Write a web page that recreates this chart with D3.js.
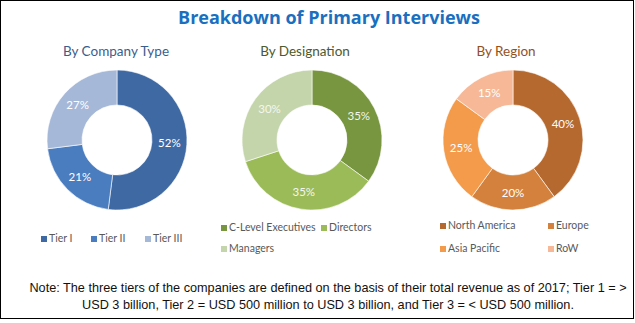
<!DOCTYPE html>
<html><head><meta charset="utf-8">
<script src="https://cdn.jsdelivr.net/npm/d3@7"></script>
<style>body{margin:0;background:#fff}</style></head>
<body><svg id="chart" width="635" height="323"></svg>
<script>
// ---- data ----
const companyTypes  = ["Tier I", "Tier II", "Tier III"];
const companyShares = [52, 21, 27];

const designations      = ["C-Level Executives", "Directors", "Managers"];
const designationShares = [35, 35, 30];

const regions      = ["North America", "Europe", "Asia Pacific", "RoW"];
const regionShares = [40, 20, 25, 15];

const titleText = "Breakdown of Primary Interviews";
const noteLines = [
  "Note: The three tiers of the companies are defined on the basis of their total revenue as of 2017; Tier 1 = >",
  "USD 3 billion, Tier 2 = USD 500 million to USD 3 billion, and Tier 3 = < USD 500 million."
];

// ---- layout / style ----
const svg = d3.select("#chart");
const uiFont = "Lato, 'Open Sans', sans-serif";

svg.append("rect").attr("x", 0.5).attr("y", 0.5).attr("width", 633).attr("height", 318)
  .attr("fill", "#fff").attr("stroke", "#000").attr("stroke-width", 1);

// main heading, stretched to its fixed span
const title = svg.append("text").attr("x", 329).attr("y", 24).attr("text-anchor", "middle")
  .attr("font-family", "'Open Sans', sans-serif").attr("font-weight", "bold").attr("font-size", 18)
  .attr("fill", "#1a6fbf").text(titleText);
{
  const w = title.node().getComputedTextLength();
  title.attr("font-size", 18 * 302 / w);
}

const panels = [
  {
    title: "By Company Type", titleX: 116, titleColor: "#3b5d8c",
    cx: 117, labels: companyTypes, values: companyShares,
    colors: ["#3f69a3", "#4a7cc0", "#a6b8d8"], labelColor: "#fff",
    legend: [[41, 242], [91, 242], [145, 242]]
  },
  {
    title: "By Designation", titleX: 305, titleColor: "#4c5a2c",
    cx: 312, labels: designations, values: designationShares,
    colors: ["#78953f", "#9bbb59", "#c4d5ab"], labelColor: "#f4f7ee",
    legend: [[221, 231], [321, 231], [221, 252]]
  },
  {
    title: "By Region", titleX: 506, titleColor: "#94501c",
    cx: 513, labels: regions, values: regionShares,
    colors: ["#b5692f", "#d3813d", "#f39a4b", "#f6b896"], labelColor: "#fff",
    legend: [[440, 229], [548, 229], [440, 252], [548, 252]]
  }
];

const cy = 140, rOuter = 70, rInner = 35;
const pie = d3.pie().sort(null).value(d => d);
const arc = d3.arc().innerRadius(rInner).outerRadius(rOuter);
const labelArc = d3.arc().innerRadius((rInner + rOuter) / 2).outerRadius((rInner + rOuter) / 2);

panels.forEach(p => {
  svg.append("text").attr("x", p.titleX).attr("y", 56).attr("text-anchor", "middle")
    .attr("font-family", uiFont).attr("font-size", 13.5).attr("fill", p.titleColor)
    .text(p.title);

  const g = svg.append("g").attr("transform", `translate(${p.cx},${cy})`);
  const arcs = pie(p.values);
  g.selectAll("path").data(arcs).join("path")
    .attr("d", arc).attr("fill", (d, i) => p.colors[i])
    .attr("stroke", "#fff").attr("stroke-width", 0.6);

  g.selectAll("text").data(arcs).join("text")
    .attr("transform", d => `translate(${labelArc.centroid(d)})`)
    .attr("text-anchor", "middle").attr("dy", "0.35em")
    .attr("font-family", uiFont).attr("font-size", 11.5).attr("fill", p.labelColor)
    .text(d => d.data + "%");

  const lg = svg.append("g");
  p.labels.forEach((name, i) => {
    const [x, y] = p.legend[i];
    lg.append("rect").attr("x", x).attr("y", y - 6).attr("width", 6).attr("height", 6)
      .attr("fill", p.colors[i]);
    lg.append("text").attr("x", x + 8).attr("y", y)
      .attr("font-family", uiFont).attr("font-size", 10.5).attr("fill", "#595959")
      .text(name);
  });
});

noteLines.forEach((line, i) => {
  const t = svg.append("text").attr("x", 328).attr("y", 292 + i * 17).attr("text-anchor", "middle")
    .attr("font-family", "'Liberation Sans', Arial, sans-serif").attr("font-size", 12.7)
    .attr("fill", "#111").text(line);
});
</script>
</body></html>
